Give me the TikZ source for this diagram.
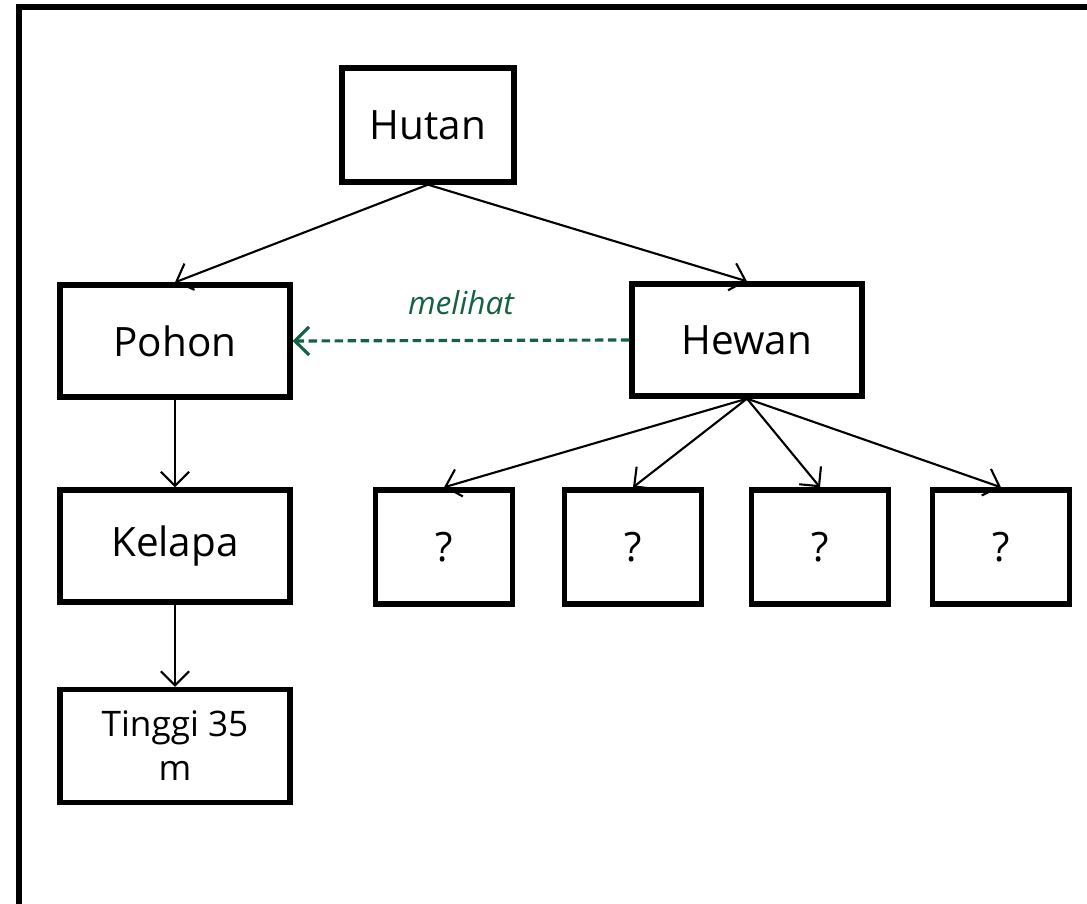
\documentclass[tikz,border=0pt]{standalone}
\usepackage{fontspec}
\setmainfont{Open Sans}
\usepackage{tikz}
\usetikzlibrary{arrows.meta, positioning}

\definecolor{seegreen}{RGB}{20,98,66}

\tikzset{
    box/.style={draw, line width=1.5pt, rectangle, minimum width=2.3cm, minimum height=1.12cm, font=\fontsize{11.5}{14}\selectfont},
    qbox/.style={box, minimum width=1.37cm, minimum height=1.14cm},
    link/.style={-{Straight Barb[length=4pt,width=8pt]}, line width=0.6pt},
    sees/.style={-{Straight Barb[length=4pt,width=8pt]}, seegreen, line width=0.9pt, dash pattern=on 2.4pt off 1.3pt}
}

\begin{document}
\begin{tikzpicture}[x=0.01cm, y=-0.01cm]
    \useasboundingbox (0,0) rectangle (1087,904);
    \clip (0,0) rectangle (1087,904);
    \draw[line width=1.6pt] (19,7) rectangle (1120,940);

    \node[box, minimum width=1.72cm, minimum height=1.14cm] (hutan) at (428,125) {Hutan};
    \node[box] (pohon) at (175,341) {Pohon};
    \node[box] (hewan) at (747,340) {Hewan};
    \node[box] (kelapa) at (175,546) {Kelapa};
    \node[box, minimum height=1.13cm, align=center, font=\fontsize{10}{12.5}\selectfont] (tinggi) at (175,746) {Tinggi 35\\m};
    \node[qbox] (q1) at (444,547) {?};
    \node[qbox] (q2) at (633,547) {?};
    \node[qbox] (q3) at (820,547) {?};
    \node[qbox] (q4) at (1001,547) {?};

    \draw[link] (hutan.south) to (pohon.north);
    \draw[link] (hutan.south) to (hewan.north);
    \draw[link] (pohon.south) to (kelapa.north);
    \draw[link] (kelapa.south) to (tinggi.north);
    \foreach \q in {q1, q2, q3, q4}
        \draw[link] (hewan.south) to (\q.north);
    \draw[sees] (hewan.west) to node[above=0.12cm, font=\fontsize{9}{11}\selectfont\itshape] {melihat} (pohon.east);
\end{tikzpicture}
\end{document}
